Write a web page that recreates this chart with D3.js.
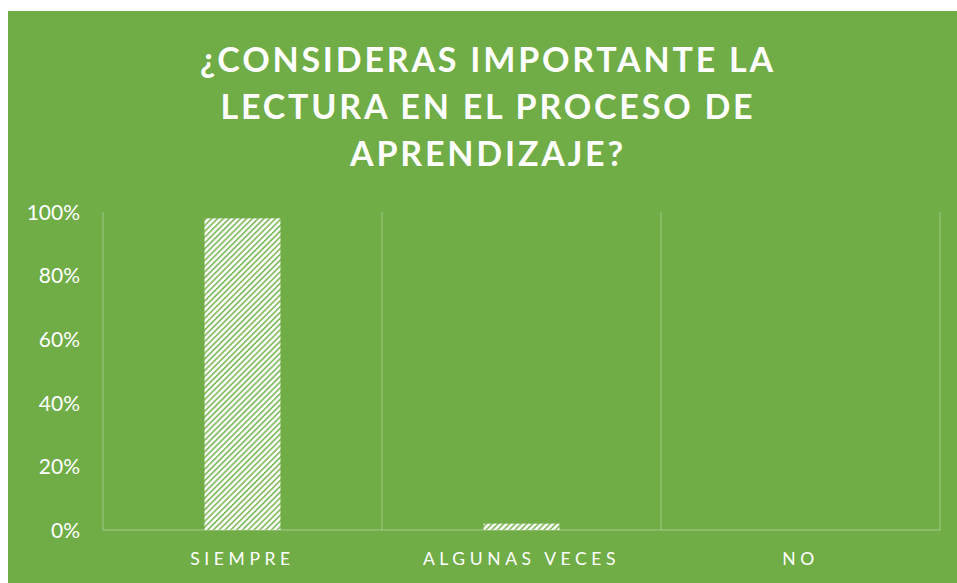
<!DOCTYPE html>
<html>
<head>
<meta charset="utf-8">
<script src="https://cdn.jsdelivr.net/npm/d3@7"></script>
<style>
  html, body { margin: 0; padding: 0; background: #ffffff; }
  svg { display: block; }
</style>
</head>
<body>
<svg id="chart" width="957" height="583"></svg>
<script>
const titleLines = ["¿CONSIDERAS IMPORTANTE LA", "LECTURA EN EL PROCESO DE", "APRENDIZAJE?"];
const categories = ["SIEMPRE", "ALGUNAS VECES", "NO"];
const values = [0.98, 0.02, 0];
const yTicks = [0, 0.2, 0.4, 0.6, 0.8, 1.0];

const svg = d3.select("#chart");
const W = 957, H = 583;
const green = "#70AD47";
const gridColor = "rgba(255,255,255,0.25)";
const font = "Lato, 'Open Sans', sans-serif";

// background
svg.append("rect").attr("x", 8).attr("y", 11).attr("width", W - 8).attr("height", H - 11)
  .attr("fill", green);

// pattern
const defs = svg.append("defs");
const P = 4.1;
const pat = defs.append("pattern").attr("id", "hatch")
  .attr("patternUnits", "userSpaceOnUse")
  .attr("width", P).attr("height", P)
  .attr("patternTransform", "rotate(45)");
pat.append("rect").attr("width", P).attr("height", P).attr("fill", "#ffffff");
pat.append("rect").attr("width", 1.7).attr("height", P).attr("fill", "#86bc63");

const plot = { left: 103, right: 940, top: 212, bottom: 530 };

const x = d3.scaleBand().domain(categories).range([plot.left, plot.right]).paddingInner(0).paddingOuter(0);
const y = d3.scaleLinear().domain([0, 1]).range([plot.bottom, plot.top]);

// vertical gridlines at category boundaries
const bounds = categories.map(c => x(c)).concat([x(categories[categories.length - 1]) + x.bandwidth()]);
svg.append("g").selectAll("line").data(bounds).join("line")
  .attr("x1", d => d).attr("x2", d => d)
  .attr("y1", y(1)).attr("y2", y(0))
  .attr("stroke", gridColor).attr("stroke-width", 1.3);

// bars
const barW = x.bandwidth() * 0.272;
svg.append("g").selectAll("rect").data(values).join("rect")
  .attr("x", (d, i) => x(categories[i]) + x.bandwidth() / 2 - barW / 2)
  .attr("width", barW)
  .attr("y", d => y(d))
  .attr("height", d => y(0) - y(d))
  .attr("fill", "url(#hatch)");

// baseline
svg.append("line").attr("x1", plot.left).attr("x2", plot.right)
  .attr("y1", y(0)).attr("y2", y(0))
  .attr("stroke", gridColor).attr("stroke-width", 1.3);

// y axis labels
const yAxis = d3.axisLeft(y).tickValues(yTicks).tickFormat(d3.format(".0%")).tickSize(0).tickPadding(0);
const yg = svg.append("g").attr("transform", `translate(80,0)`).call(yAxis);
yg.select(".domain").remove();
yg.selectAll("text").attr("fill", "#ffffff").attr("font-family", font)
  .attr("font-size", 21).attr("dy", "0.35em");

// x axis labels
const xAxis = d3.axisBottom(x).tickSize(0).tickPadding(0);
const xg = svg.append("g").attr("transform", `translate(0,${plot.bottom})`).call(xAxis);
xg.select(".domain").remove();
xg.selectAll("text").attr("fill", "#ffffff").attr("font-family", font)
  .attr("font-size", 17.5).attr("letter-spacing", "4.6px")
  .attr("y", 35).attr("dy", 0);

// title
svg.append("g").selectAll("text").data(titleLines).join("text")
  .attr("x", 488).attr("y", (d, i) => 72 + i * 47)
  .attr("text-anchor", "middle")
  .attr("fill", "#ffffff").attr("font-family", font).attr("font-weight", "bold")
  .attr("font-size", 34).attr("letter-spacing", "2.8px")
  .text(d => d);
</script>
</body>
</html>
